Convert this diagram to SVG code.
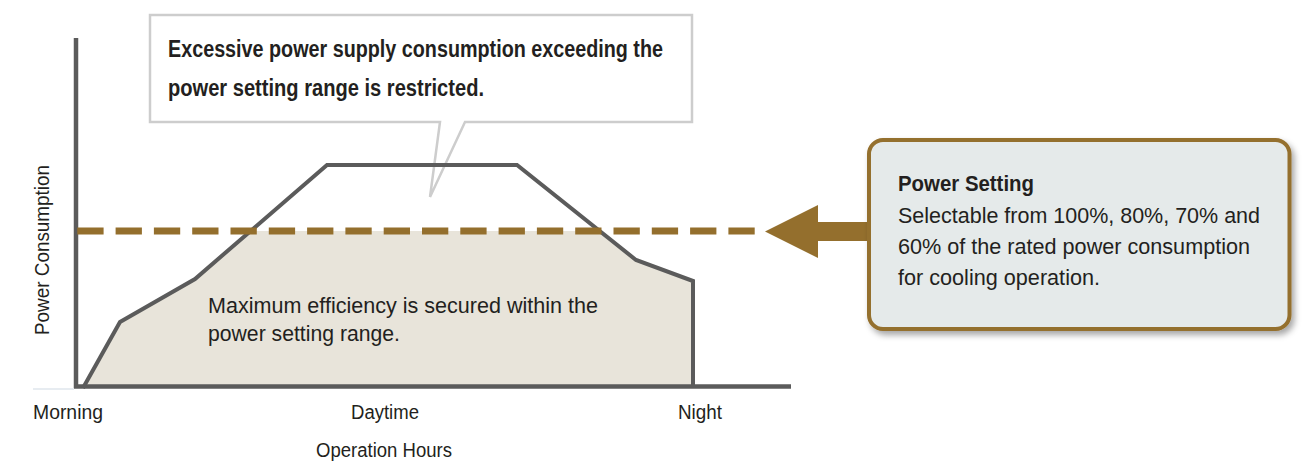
<svg xmlns="http://www.w3.org/2000/svg" width="1313" height="461" viewBox="0 0 1313 461">
<defs>
<filter id="shadow" x="-10%" y="-10%" width="125%" height="130%"><feDropShadow dx="3" dy="4" stdDeviation="3" flood-color="#000" flood-opacity="0.35"/></filter>
</defs>
<style>
.t{font-family:"Liberation Sans Narrow","Liberation Sans",Arial,sans-serif;fill:#231f20;}
.b{font-weight:bold;}
.axis{stroke:#5b5b5b;stroke-width:4.5;fill:none;}
.curve{stroke:#5b5b5b;stroke-width:4;fill:none;stroke-linejoin:miter;}
.dash{stroke:#946f2d;stroke-width:7;stroke-dasharray:26.3 12;fill:none;}
</style>
<rect width="1313" height="461" fill="#ffffff"/>
<g id="chart">
<polygon points="83,387 120,322 195,279 250.6,231 599.7,231 636,260 693,281 693,387" fill="#e8e4da"/>
<line x1="33" y1="389" x2="74" y2="389" stroke="#dfe6ec" stroke-width="1.5"/>
<line class="axis" x1="76" y1="38" x2="76" y2="388"/>
<line class="axis" x1="74" y1="386.5" x2="791" y2="386.5"/>
</g>
<g id="callout">
<path d="M150,15 H692 V122 H465 L430,197 L440,122 H150 Z" fill="#ffffff" stroke="#cdcdcd" stroke-width="2.5"/>
<text class="t b" x="168" y="57" font-size="23" textLength="495" lengthAdjust="spacingAndGlyphs">Excessive power supply consumption exceeding the</text>
<text class="t b" x="168" y="96" font-size="23" textLength="316" lengthAdjust="spacingAndGlyphs">power setting range is restricted.</text>
</g>
<g id="curve">
<polyline class="curve" points="83,388 120,322 195,279 327,165 517,165 636,260 693,281 693,388"/>
</g>
<g id="connectors">
<line class="dash" x1="77.3" y1="231" x2="755" y2="231"/>
<polygon points="765,231.5 818,205 818,222 870,222 870,241 818,241 818,258" fill="#946f2d"/>
</g>
<g id="power-setting">
<rect x="869" y="140" width="420.5" height="189" rx="14" fill="#e5eaea" stroke="#946f2d" stroke-width="4" filter="url(#shadow)"/>
<text class="t b" x="898" y="191" font-size="22" textLength="136" lengthAdjust="spacingAndGlyphs">Power Setting</text>
<text class="t" x="898" y="223" font-size="22" textLength="362" lengthAdjust="spacingAndGlyphs">Selectable from 100%, 80%, 70% and</text>
<text class="t" x="898" y="254" font-size="22" textLength="352" lengthAdjust="spacingAndGlyphs">60% of the rated power consumption</text>
<text class="t" x="898" y="285" font-size="22" textLength="202" lengthAdjust="spacingAndGlyphs">for cooling operation.</text>
</g>
<g id="efficiency-label">
<text class="t" x="208" y="313" font-size="22" textLength="390" lengthAdjust="spacingAndGlyphs">Maximum efficiency is secured within the</text>
<text class="t" x="208" y="341" font-size="22" textLength="192" lengthAdjust="spacingAndGlyphs">power setting range.</text>
</g>
<g id="axis-labels">
<text class="t" x="33" y="419" font-size="20" textLength="70" lengthAdjust="spacingAndGlyphs">Morning</text>
<text class="t" x="351" y="419" font-size="20" textLength="68" lengthAdjust="spacingAndGlyphs">Daytime</text>
<text class="t" x="678" y="419" font-size="20" textLength="44" lengthAdjust="spacingAndGlyphs">Night</text>
<text class="t" x="316" y="457" font-size="20" textLength="136" lengthAdjust="spacingAndGlyphs">Operation Hours</text>
<text class="t" transform="translate(49,335) rotate(-90)" x="0" y="0" font-size="20" textLength="170" lengthAdjust="spacingAndGlyphs">Power Consumption</text>
</g>
</svg>
